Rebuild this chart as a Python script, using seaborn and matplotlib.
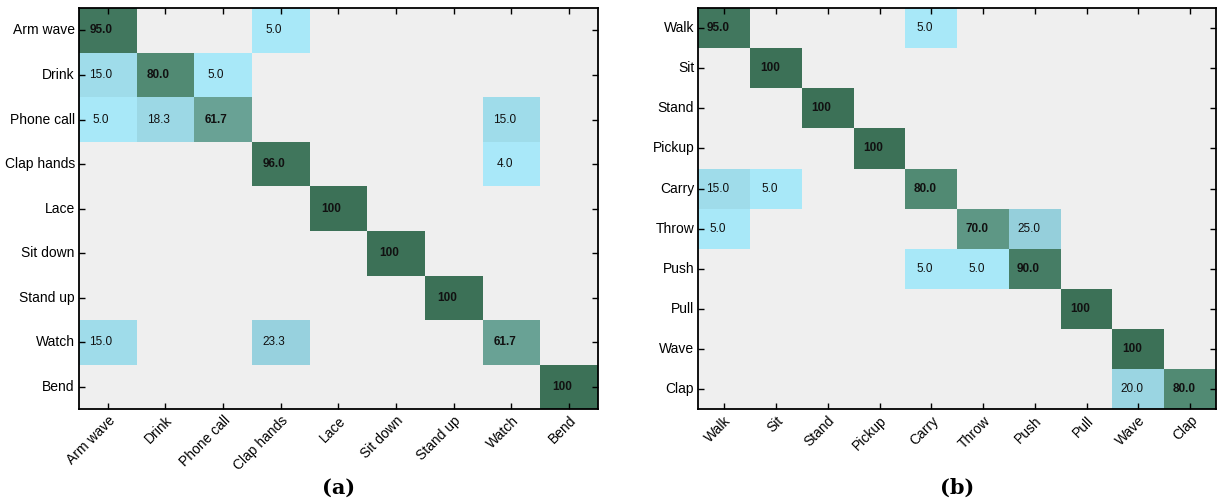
import numpy as np
import pandas as pd
import matplotlib
matplotlib.use("Agg")
import matplotlib.pyplot as plt
import seaborn as sns
from matplotlib.colors import LinearSegmentedColormap

# Dados das matrizes de confusão (%)
classes_a = ['Arm wave', 'Drink', 'Phone call', 'Clap hands', 'Lace',
             'Sit down', 'Stand up', 'Watch', 'Bend']
valores_a = [
    [95.0, 0, 0, 5.0, 0, 0, 0, 0, 0],
    [15.0, 80.0, 5.0, 0, 0, 0, 0, 0, 0],
    [5.0, 18.3, 61.7, 0, 0, 0, 0, 15.0, 0],
    [0, 0, 0, 96.0, 0, 0, 0, 4.0, 0],
    [0, 0, 0, 0, 100, 0, 0, 0, 0],
    [0, 0, 0, 0, 0, 100, 0, 0, 0],
    [0, 0, 0, 0, 0, 0, 100, 0, 0],
    [15.0, 0, 0, 23.3, 0, 0, 0, 61.7, 0],
    [0, 0, 0, 0, 0, 0, 0, 0, 100],
]

classes_b = ['Walk', 'Sit', 'Stand', 'Pickup', 'Carry', 'Throw', 'Push',
             'Pull', 'Wave', 'Clap']
valores_b = [
    [95.0, 0, 0, 0, 5.0, 0, 0, 0, 0, 0],
    [0, 100, 0, 0, 0, 0, 0, 0, 0, 0],
    [0, 0, 100, 0, 0, 0, 0, 0, 0, 0],
    [0, 0, 0, 100, 0, 0, 0, 0, 0, 0],
    [15.0, 5.0, 0, 0, 80.0, 0, 0, 0, 0, 0],
    [5.0, 0, 0, 0, 0, 70.0, 25.0, 0, 0, 0],
    [0, 0, 0, 0, 5.0, 5.0, 90.0, 0, 0, 0],
    [0, 0, 0, 0, 0, 0, 0, 100, 0, 0],
    [0, 0, 0, 0, 0, 0, 0, 0, 100, 0],
    [0, 0, 0, 0, 0, 0, 0, 0, 20.0, 80.0],
]

# Mapa de cores: ciano claro -> verde escuro
cmap = LinearSegmentedColormap.from_list('cm', [
    (0.0, '#aeeafb'), (0.05, '#a8e8f8'), (0.25, '#95cfdb'),
    (0.62, '#68a194'), (0.8, '#518a73'), (1.0, '#3c7157')])

plt.rcParams['font.family'] = ['Liberation Sans', 'DejaVu Sans']

fig = plt.figure(figsize=(12.24, 5.04), dpi=100)
ax_a = fig.add_axes([0.0645, 0.188, 0.424, 0.796])
ax_b = fig.add_axes([0.5705, 0.188, 0.423, 0.796])


def desenha(ax, classes, valores, letra):
    df = pd.DataFrame(valores, index=classes, columns=classes)
    ax.set_facecolor('#efefef')
    sns.heatmap(df, ax=ax, mask=(df.values == 0), cmap=cmap, vmin=0, vmax=100,
                cbar=False, linewidths=0)
    n = len(classes)
    for i in range(n):
        for j in range(n):
            v = df.values[i, j]
            if v == 0:
                continue
            txt = '100' if v == 100 else f'{v:.1f}'
            ax.text(j + 0.38, i + 0.5, txt, ha='center', va='center',
                    fontsize=8.5, color='#111111',
                    fontweight='bold' if i == j else 'normal')
    for s in ax.spines.values():
        s.set_visible(True)
        s.set_linewidth(1.3)
        s.set_color('black')
    ax.tick_params(direction='in', length=4, width=1, top=True, right=True,
                   labeltop=False, labelright=False, labelsize=10, pad=3)
    ax.set_xticklabels(classes, rotation=45, ha='right', rotation_mode='anchor')
    ax.set_yticklabels(classes, rotation=0)
    ax.set_xlabel('')
    ax.set_ylabel('')
    ax.text(0.5, -0.195, letra, transform=ax.transAxes, ha='center', va='center',
            fontsize=15, fontweight='bold', family='DejaVu Serif')


desenha(ax_a, classes_a, valores_a, '(a)')
desenha(ax_b, classes_b, valores_b, '(b)')

plt.savefig('out.png', dpi=100)
